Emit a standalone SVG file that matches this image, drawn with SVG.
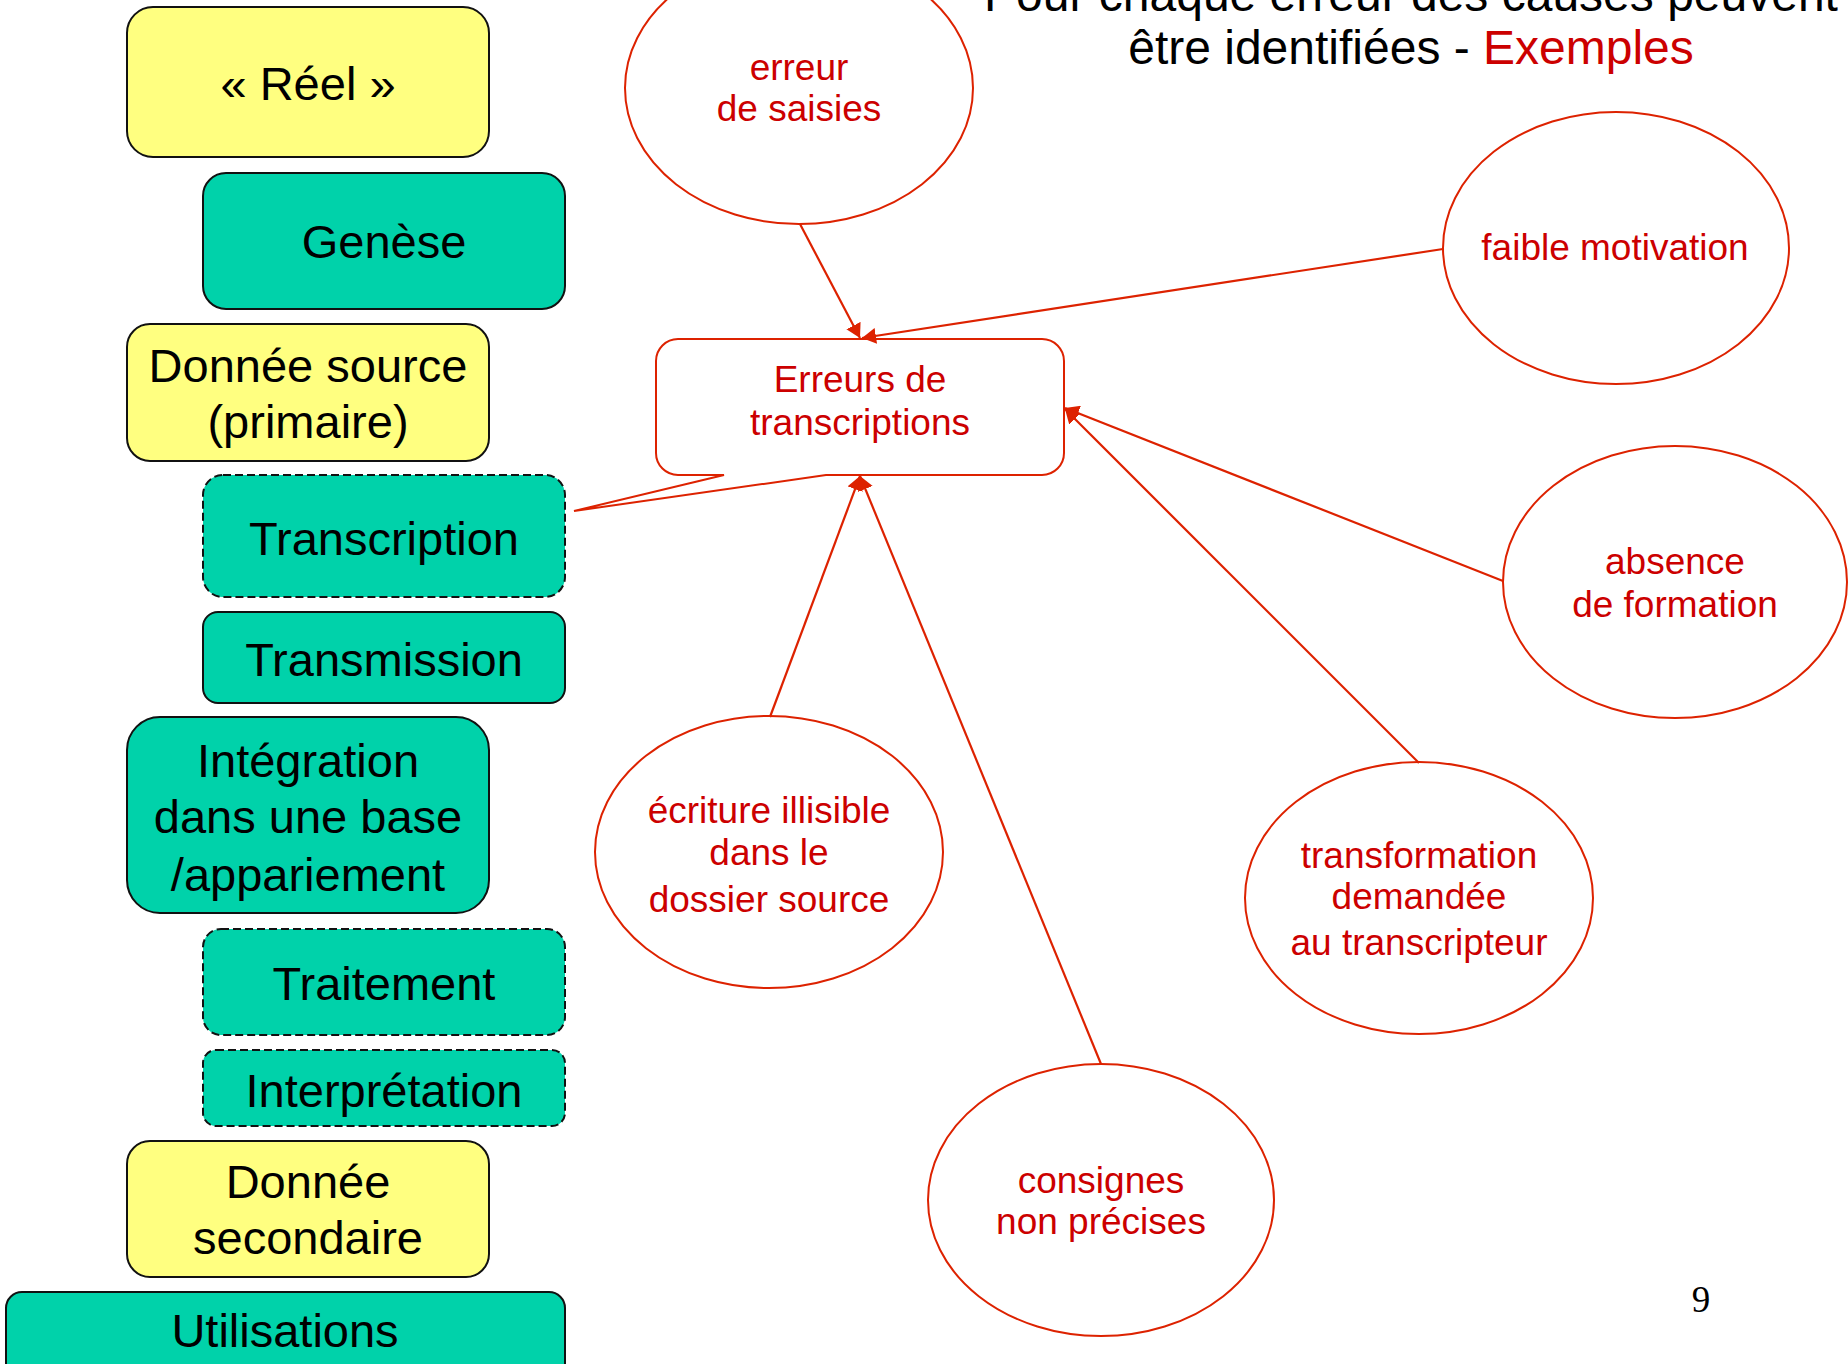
<svg xmlns="http://www.w3.org/2000/svg" width="1848" height="1364" viewBox="0 0 1848 1364">
  <style>
    text { font-family: "Liberation Sans", Arial, sans-serif; text-anchor: middle; }
    .box { stroke: #111; stroke-width: 2; }
    .yellow { fill: #FFFF80; }
    .teal { fill: #00D2AA; }
    .dashed { stroke-dasharray: 8 4; }
    .boxtxt { font-size: 47px; fill: #000; }
    .cause { fill: #fff; stroke: #DD2200; stroke-width: 2; }
    .redtxt { font-size: 37px; fill: #CC0000; }
    .link { stroke: #DD2200; stroke-width: 2.2; fill: none; marker-end: url(#arrow); }
    .title { font-size: 48px; fill: #000; }
  </style>
  <defs>
    <marker id="arrow" markerUnits="userSpaceOnUse" viewBox="0 0 14 16" refX="14" refY="8" markerWidth="14" markerHeight="16" orient="auto">
      <path d="M0,0 L14,8 L0,16 z" fill="#DD2200"/>
    </marker>
  </defs>

  <rect width="1848" height="1364" fill="#fff"/>

  <!-- heading -->
  <g id="heading">
    <text class="title" x="1411" y="11">Pour chaque erreur des causes peuvent</text>
    <text class="title" x="1411" y="64">être identifiées - <tspan fill="#CC0000">Exemples</tspan></text>
  </g>

  <!-- processing chain, left column -->
  <g id="reel">
    <rect class="box yellow" x="127" y="7" width="362" height="150" rx="26"/>
    <text class="boxtxt" x="308" y="100">« Réel »</text>
  </g>
  <g id="genese">
    <rect class="box teal" x="203" y="173" width="362" height="136" rx="23"/>
    <text class="boxtxt" x="384" y="258">Genèse</text>
  </g>
  <g id="donnee-source">
    <rect class="box yellow" x="127" y="324" width="362" height="137" rx="23"/>
    <text class="boxtxt" x="308" y="382">Donnée source</text>
    <text class="boxtxt" x="308" y="438">(primaire)</text>
  </g>
  <g id="transcription">
    <rect class="box teal dashed" x="203" y="475" width="362" height="122" rx="20"/>
    <text class="boxtxt" x="384" y="555">Transcription</text>
  </g>
  <g id="transmission">
    <rect class="box teal" x="203" y="612" width="362" height="91" rx="15"/>
    <text class="boxtxt" x="384" y="676">Transmission</text>
  </g>
  <g id="integration">
    <rect class="box teal" x="127" y="717" width="362" height="196" rx="33"/>
    <text class="boxtxt" x="308" y="777">Intégration</text>
    <text class="boxtxt" x="308" y="833">dans une base</text>
    <text class="boxtxt" x="308" y="891">/appariement</text>
  </g>
  <g id="traitement">
    <rect class="box teal dashed" x="203" y="929" width="362" height="106" rx="18"/>
    <text class="boxtxt" x="384" y="1000">Traitement</text>
  </g>
  <g id="interpretation">
    <rect class="box teal dashed" x="203" y="1050" width="362" height="76" rx="13"/>
    <text class="boxtxt" x="384" y="1107">Interprétation</text>
  </g>
  <g id="donnee-secondaire">
    <rect class="box yellow" x="127" y="1141" width="362" height="136" rx="23"/>
    <text class="boxtxt" x="308" y="1198">Donnée</text>
    <text class="boxtxt" x="308" y="1254">secondaire</text>
  </g>
  <g id="utilisations">
    <rect class="box teal" x="6" y="1292" width="559" height="110" rx="16"/>
    <text class="boxtxt" x="285" y="1347">Utilisations</text>
  </g>

  <!-- callout pointing at the Transcription step -->
  <g id="erreurs-transcriptions">
    <path d="M678,339 H1042 A22,22 0 0 1 1064,361 V453 A22,22 0 0 1 1042,475 H826 L574,511 L724,475 H678 A22,22 0 0 1 656,453 V361 A22,22 0 0 1 678,339 Z" fill="#fff" stroke="#DD2200" stroke-width="2"/>
    <text class="redtxt" x="860" y="392">Erreurs de</text>
    <text class="redtxt" x="860" y="435">transcriptions</text>
  </g>

  <!-- causes -->
  <g id="erreur-saisies">
    <ellipse class="cause" cx="799" cy="88" rx="174" ry="136"/>
    <text class="redtxt" x="799" y="80">erreur</text>
    <text class="redtxt" x="799" y="121">de saisies</text>
  </g>
  <g id="faible-motivation">
    <ellipse class="cause" cx="1616" cy="248" rx="173" ry="136"/>
    <text class="redtxt" x="1615" y="260">faible motivation</text>
  </g>
  <g id="absence-formation">
    <ellipse class="cause" cx="1675" cy="582" rx="172" ry="136"/>
    <text class="redtxt" x="1675" y="574">absence</text>
    <text class="redtxt" x="1675" y="617">de formation</text>
  </g>
  <g id="transformation">
    <ellipse class="cause" cx="1419" cy="898" rx="174" ry="136"/>
    <text class="redtxt" x="1419" y="868">transformation</text>
    <text class="redtxt" x="1419" y="909">demandée</text>
    <text class="redtxt" x="1419" y="955">au transcripteur</text>
  </g>
  <g id="ecriture-illisible">
    <ellipse class="cause" cx="769" cy="852" rx="174" ry="136"/>
    <text class="redtxt" x="769" y="823">écriture illisible</text>
    <text class="redtxt" x="769" y="865">dans le</text>
    <text class="redtxt" x="769" y="912">dossier source</text>
  </g>
  <g id="consignes">
    <ellipse class="cause" cx="1101" cy="1200" rx="173" ry="136"/>
    <text class="redtxt" x="1101" y="1193">consignes</text>
    <text class="redtxt" x="1101" y="1234">non précises</text>
  </g>

  <!-- cause arrows -->
  <g id="connectors">
    <line class="link" x1="800" y1="224" x2="860" y2="338"/>
    <line class="link" x1="1443" y1="249" x2="862" y2="338"/>
    <line class="link" x1="1503" y1="581" x2="1065" y2="408"/>
    <line class="link" x1="1419" y1="763" x2="1065" y2="409"/>
    <line class="link" x1="770" y1="717" x2="860" y2="476"/>
    <line class="link" x1="1101" y1="1064" x2="860" y2="476"/>
  </g>

  <!-- page number -->
  <text x="1701" y="1312" style="font-family: 'Liberation Serif', 'Times New Roman', serif; font-size: 37px; fill: #000;">9</text>
</svg>
